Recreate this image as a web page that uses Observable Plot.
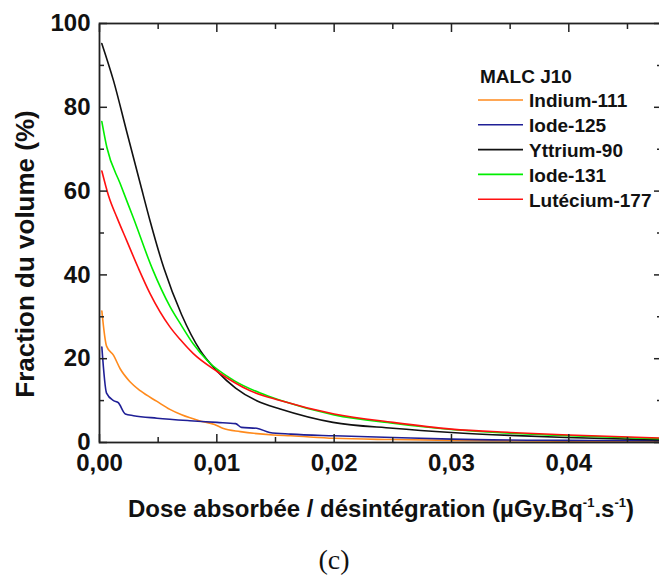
<!DOCTYPE html>
<html>
<head>
<meta charset="utf-8">
<script src="https://cdn.jsdelivr.net/npm/d3@7"></script>
<script src="https://cdn.jsdelivr.net/npm/@observablehq/plot@0.6"></script>
<style>
html,body{margin:0;padding:0;overflow:hidden;background:#fff;}
#chart{width:659px;height:579px;overflow:hidden;}
#chart svg{display:block;max-width:none !important;}
</style>
</head>
<body>
<div id="chart"></div>
<script>
// ---- data ----
const seriesNames = ["Indium-111", "Iode-125", "Yttrium-90", "Iode-131", "Lutécium-177"];
const seriesColors = ["#ff8a1c", "#1f1f96", "#111111", "#00ee00", "#ff1010"];

const indiumX = [0.0002, 0.0006, 0.0012, 0.00176, 0.0026, 0.0035, 0.0049, 0.0060, 0.0070, 0.0085, 0.0098, 0.0105, 0.0120, 0.0148, 0.0163, 0.0200, 0.0250, 0.0300, 0.0400, 0.0479];
const indiumY = [31.4, 23.0, 20.8, 17.6, 14.5, 12.3, 9.8, 7.9, 6.6, 5.2, 4.3, 3.4, 2.6, 1.8, 1.6, 1.0, 0.7, 0.5, 0.3, 0.2];

const iode125X = [0.0002, 0.0006, 0.0012, 0.0016, 0.0022, 0.0029, 0.0049, 0.0077, 0.0100, 0.0116, 0.0121, 0.0134, 0.0145, 0.0163, 0.0200, 0.0250, 0.0300, 0.0400, 0.0479];
const iode125Y = [22.8, 11.8, 10.0, 9.5, 6.8, 6.4, 5.8, 5.2, 4.8, 4.5, 3.6, 3.4, 2.4, 2.0, 1.6, 1.2, 0.8, 0.5, 0.4];

const yttriumX = [0.0002, 0.0012, 0.0023, 0.0035, 0.0043, 0.0055, 0.0070, 0.0086, 0.0100, 0.0116, 0.0134, 0.0154, 0.0199, 0.0250, 0.0300, 0.0350, 0.0398, 0.0479];
const yttriumY = [95.2, 86.3, 74.4, 61.5, 53.0, 41.5, 30.5, 21.9, 17.1, 13.0, 9.95, 8.0, 4.8, 3.4, 2.4, 1.7, 1.2, 0.6];

const iode131X = [0.0002, 0.00063, 0.00176, 0.0029, 0.0045, 0.0060, 0.0069, 0.0080, 0.0092, 0.0114, 0.0137, 0.0154, 0.0200, 0.0250, 0.0300, 0.0350, 0.0400, 0.0479];
const iode131Y = [76.6, 70.4, 61.8, 53.5, 41.5, 32.5, 28.3, 23.5, 19.5, 14.9, 11.8, 10.1, 6.6, 4.6, 3.1, 2.2, 1.6, 0.9];

const luteciumX = [0.0002, 0.00077, 0.0015, 0.0023, 0.0033, 0.0043, 0.0060, 0.0069, 0.0080, 0.0100, 0.0128, 0.0154, 0.0200, 0.0250, 0.0300, 0.0350, 0.0400, 0.0479];
const luteciumY = [64.8, 58.9, 53.6, 48.3, 41.7, 35.6, 27.6, 24.5, 21.2, 17.0, 12.4, 10.0, 6.8, 4.8, 3.2, 2.4, 1.8, 1.05];

const xMajorTicks = [0, 0.01, 0.02, 0.03, 0.04];
const xMinorTicks = [0.005, 0.015, 0.025, 0.035, 0.045];
const yMajorTicks = [0, 20, 40, 60, 80, 100];
const yMinorTicks = [10, 30, 50, 70, 90];
const xTickLabels = ["0,00", "0,01", "0,02", "0,03", "0,04"];

const legendTitle = "MALC J10";
const yTitle = "Fraction du volume (%)";
const caption = "(c)";

// ---- build table ----
const xs = [indiumX, iode125X, yttriumX, iode131X, luteciumX];
const ys = [indiumY, iode125Y, yttriumY, iode131Y, luteciumY];
const rows = [];
seriesNames.forEach((name, i) => {
  xs[i].forEach((x, j) => rows.push({series: name, x, y: ys[i][j]}));
});

const W = 663, H = 579;
const axisColor = "#222";

const svg = Plot.plot({
  width: W,
  height: H,
  marginLeft: 99,
  marginRight: 2,
  marginTop: 23,
  marginBottom: 137,
  x: {domain: [0, 0.0479]},
  y: {domain: [0, 100]},
  color: {domain: seriesNames, range: seriesColors},
  style: {fontFamily: "'Liberation Sans', Arial, sans-serif", fontWeight: "bold", background: "white", color: axisColor, maxWidth: "none"},
  marks: [
    Plot.line(rows, {x: "x", y: "y", z: "series", stroke: "series", strokeWidth: 1.6, curve: "monotone-x"}),
    Plot.frame({stroke: axisColor, strokeWidth: 1.8}),
    // inward ticks
    Plot.axisX(xMajorTicks, {anchor: "bottom", tickSize: -8, fill: "none", label: null, strokeWidth: 1.5}),
    Plot.axisX(xMinorTicks, {anchor: "bottom", tickSize: -5, fill: "none", label: null, strokeWidth: 1.5}),
    Plot.axisX(xMajorTicks, {anchor: "top", tickSize: -8, fill: "none", label: null, strokeWidth: 1.5}),
    Plot.axisX(xMinorTicks, {anchor: "top", tickSize: -5, fill: "none", label: null, strokeWidth: 1.5}),
    Plot.axisY(yMajorTicks, {anchor: "left", tickSize: -8, fill: "none", label: null, strokeWidth: 1.5}),
    Plot.axisY(yMinorTicks, {anchor: "left", tickSize: -5, fill: "none", label: null, strokeWidth: 1.5}),
    Plot.axisY(yMajorTicks, {anchor: "right", tickSize: -8, fill: "none", label: null, strokeWidth: 1.5}),
    Plot.axisY(yMinorTicks, {anchor: "right", tickSize: -5, fill: "none", label: null, strokeWidth: 1.5}),
    // tick labels
    Plot.axisX(xMajorTicks, {anchor: "bottom", tickSize: 0, tickPadding: 11, fontSize: 24, label: null,
      tickFormat: (d, i) => xTickLabels[i], fill: "#111"}),
    Plot.axisY(yMajorTicks, {anchor: "left", tickSize: 0, tickPadding: 9, fontSize: 24, label: null, fill: "#111"})
  ]
});
svg.style.maxWidth = "none";
svg.style.width = W + "px";
svg.style.height = H + "px";

const s = d3.select(svg);
const font = "'Liberation Sans', Arial, sans-serif";

// x title with superscripts
const xt = s.append("text")
  .attr("x", 381).attr("y", 516.5)
  .attr("text-anchor", "middle")
  .attr("font-family", font).attr("font-weight", "bold").attr("font-size", 24).attr("fill", "#111");
xt.append("tspan").text("Dose absorbée / désintégration (µGy.Bq");
xt.append("tspan").attr("dy", -10).attr("font-size", 13).text("-1");
xt.append("tspan").attr("dy", 10).text(".s");
xt.append("tspan").attr("dy", -10).attr("font-size", 13).text("-1");
xt.append("tspan").attr("dy", 10).text(")");

// y title
s.append("text")
  .attr("transform", "translate(34,254) rotate(-90)")
  .attr("text-anchor", "middle")
  .attr("font-family", font).attr("font-weight", "bold").attr("font-size", 26).attr("fill", "#111")
  .text(yTitle);

// legend
const lg = s.append("g").attr("font-family", font).attr("font-weight", "bold").attr("font-size", 19)
  .attr("fill", "#111").attr("text-anchor", "start");
lg.append("text").attr("x", 480).attr("y", 82.7).text(legendTitle);
seriesNames.forEach((name, i) => {
  const yy = 100 + i * 24.8;
  lg.append("line").attr("x1", 478).attr("x2", 523).attr("y1", yy).attr("y2", yy)
    .attr("stroke", seriesColors[i]).attr("stroke-width", 1.6);
  lg.append("text").attr("x", 529).attr("y", yy + 7.3).text(name);
});

// caption
s.append("text")
  .attr("x", 334).attr("y", 569)
  .attr("text-anchor", "middle")
  .attr("font-family", "'Liberation Serif', 'DejaVu Serif', serif").attr("font-weight", "normal")
  .attr("font-size", 28).attr("fill", "#111")
  .text(caption);

document.getElementById("chart").appendChild(svg);
</script>
</body>
</html>
